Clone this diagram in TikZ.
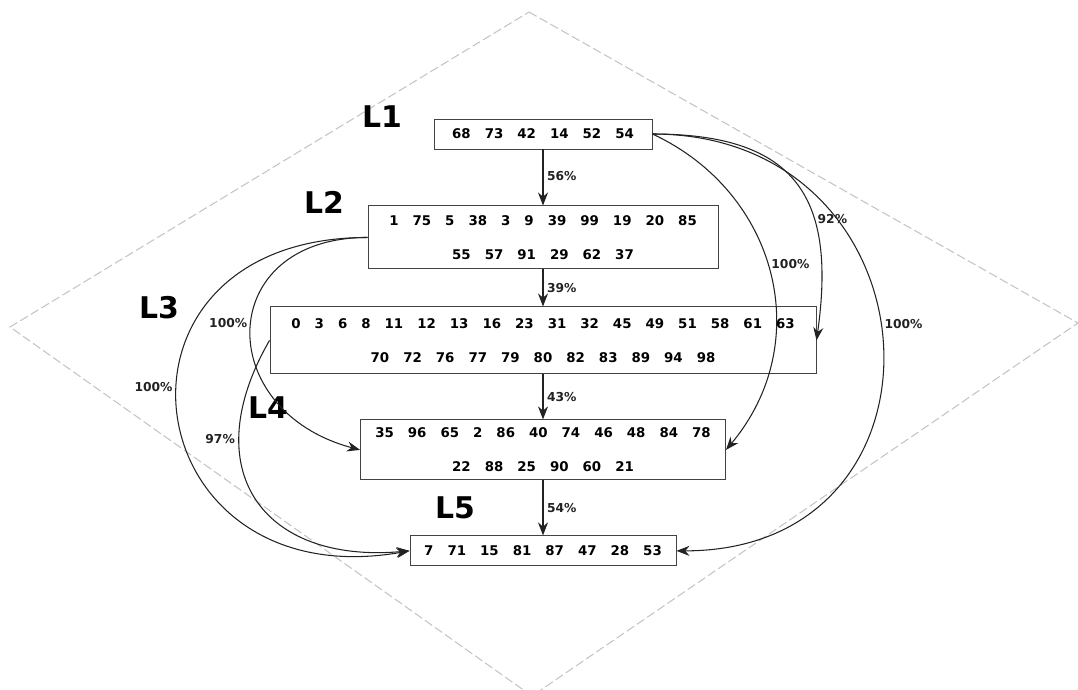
\documentclass[tikz,border=0pt]{standalone}
\usepackage{fontspec}
\setmainfont{DejaVu Sans}
\usetikzlibrary{arrows.meta,positioning}
\definecolor{cadregris}{HTML}{C4C4C4}
\definecolor{traitnoir}{HTML}{222222}
\newcommand{\numsep}{\hspace{1.05em}}

\begin{document}
\begin{tikzpicture}[
  level/.style={draw=traitnoir!85, line width=0.55pt, align=center, inner sep=0pt, font=\bfseries\fontsize{7.6}{19.3}\selectfont},
  lvlname/.style={font=\bfseries\fontsize{17}{20}\selectfont},
  pct/.style={font=\bfseries\fontsize{7}{8}\selectfont, inner sep=2pt},
  flow/.style={-{Stealth[length=2.6mm,width=2mm]}, line width=0.6pt, traitnoir}
]
\useasboundingbox (0,0) rectangle (21.56,-13.8);
\draw[cadregris, dash pattern=on 5pt off 2pt, line width=0.6pt] (10.58,-0.24) -- (21.56,-6.46) -- (10.64,-13.92) -- (0.2,-6.54) -- cycle;

% les cinq niveaux
\node[level, minimum width=4.36cm, minimum height=0.6cm] (l1) at (10.86,-2.68) {68\numsep 73\numsep 42\numsep 14\numsep 52\numsep 54};
\node[level, minimum width=7cm, minimum height=1.26cm, below=1.12cm of l1] (l2) {1\numsep 75\numsep 5\numsep 38\numsep 3\numsep 9\numsep 39\numsep 99\numsep 19\numsep 20\numsep 85\\ 55\numsep 57\numsep 91\numsep 29\numsep 62\numsep 37};
\node[level, minimum width=10.92cm, minimum height=1.34cm, below=0.74cm of l2] (l3) {0\numsep 3\numsep 6\numsep 8\numsep 11\numsep 12\numsep 13\numsep 16\numsep 23\numsep 31\numsep 32\numsep 45\numsep 49\numsep 51\numsep 58\numsep 61\numsep 63\\ 70\numsep 72\numsep 76\numsep 77\numsep 79\numsep 80\numsep 82\numsep 83\numsep 89\numsep 94\numsep 98};
\node[level, minimum width=7.3cm, minimum height=1.2cm, below=0.9cm of l3] (l4) {35\numsep 96\numsep 65\numsep 2\numsep 86\numsep 40\numsep 74\numsep 46\numsep 48\numsep 84\numsep 78\\ 22\numsep 88\numsep 25\numsep 90\numsep 60\numsep 21};
\node[level, minimum width=5.32cm, minimum height=0.6cm, below=1.1cm of l4] (l5) {7\numsep 71\numsep 15\numsep 81\numsep 87\numsep 47\numsep 28\numsep 53};

\node[lvlname] (n1) at (7.64,-2.34) {L1};
\node[lvlname] (n2) at (6.48,-4.04) {L2};
\node[lvlname] (n3) at (3.18,-6.16) {L3};
\node[lvlname] (n4) at (5.36,-8.16) {L4};
\node[lvlname] (n5) at (9.10,-10.16) {L5};

\draw[flow] (l1) -- node[pct, right, yshift=1pt]{56\%} (l2);
\draw[flow] (l2) -- node[pct, right]{39\%} (l3);
\draw[flow] (l3) -- node[pct, right]{43\%} (l4);
\draw[flow] (l4) -- node[pct, right]{54\%} (l5);

% sauts de niveaux
\draw[flow] (l1.east) to[out=0, in=0, looseness=1.78] node[pct, pos=0.47, right]{100\%} (l5.east);
\draw[flow] (l1.east) to[out=0, in=82, looseness=1.4] node[pct, pos=0.65, right]{92\%} (l3.east);
\draw[flow] (l1.east) to[out=-25, in=50, looseness=1.1] node[pct, pos=0.47, right]{100\%} (l4.east);
\draw[flow] (l2.west) to[out=180, in=165, looseness=1.84] node[pct, pos=0.48, left]{100\%} (l4.west);
\draw[flow] (l2.west) to[out=180, in=190, looseness=2.29] node[pct, pos=0.45, left]{100\%} (l5.west);
\draw[flow] (l3.west) to[out=240, in=185, looseness=1.5] node[pct, pos=0.28, left]{97\%} (l5.west);
\end{tikzpicture}
\end{document}
